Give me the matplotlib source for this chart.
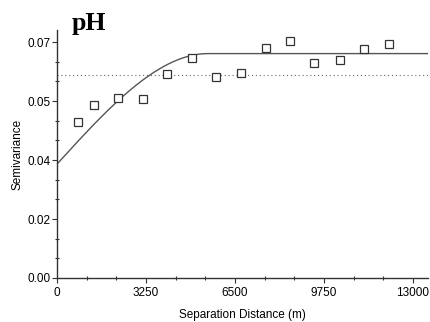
import numpy as np
import matplotlib
matplotlib.use("Agg")
import matplotlib.pyplot as plt
from matplotlib.ticker import FixedLocator, AutoMinorLocator

# experimental semivariogram (lag in m, semivariance)
lag = [756, 1351, 2227, 3129, 4017, 4930, 5806, 6719, 7621, 8519,
       9396, 10323, 11211, 12112]
semivar = [0.0464, 0.0514, 0.0535, 0.0530, 0.0606, 0.0652, 0.0598, 0.0609,
           0.0683, 0.0703, 0.0639, 0.0647, 0.0681, 0.0693]

# fitted spherical model + sample variance
nugget = 0.0338
sill = 0.0666
model_range = 5514
sample_var = 0.0601

xticks = [0, 3250, 6500, 9750, 13000]
yticks = [0.0, 0.0175, 0.035, 0.0525, 0.07]
ylabels = ["0.00", "0.02", "0.04", "0.05", "0.07"]

plt.rcParams['font.family'] = ['Liberation Sans', 'DejaVu Sans']

fig = plt.figure(figsize=(4.3, 3.22), dpi=100)
ax = fig.add_axes([57/430, 1-278/322, 371/430, 248/322])

h = np.linspace(0, 13547, 600)
hr = np.minimum(h / model_range, 1.0)
gam = nugget + (sill - nugget) * (1.5*hr - 0.5*hr**3)
ax.plot(h, gam, color='#555555', lw=1.0)
ax.axhline(sample_var, color='#666666', lw=0.8, ls=(0, (1, 2.5)))
ax.plot(lag, semivar, ls='none', marker='s', ms=5.2, mfc='white',
        mec='#333333', mew=0.9)

ax.set_xlim(0, 13547)
ax.set_ylim(0, 0.0736)
ax.xaxis.set_major_locator(FixedLocator(xticks))
ax.yaxis.set_major_locator(FixedLocator(yticks))
ax.set_yticklabels(ylabels)
ax.xaxis.set_minor_locator(AutoMinorLocator(3))
ax.yaxis.set_minor_locator(AutoMinorLocator(3))

for s in ['top', 'right']:
    ax.spines[s].set_visible(False)
for s in ['left', 'bottom']:
    ax.spines[s].set_color('#333333')
    ax.spines[s].set_linewidth(1.0)
ax.tick_params(which='major', direction='out', length=3.5, width=0.8,
               color='#333333', labelsize=8.5, pad=1)
ax.tick_params(axis='x', which='major', pad=3)
ax.tick_params(which='minor', direction='inout', length=3, width=0.8,
               color='#333333')

ax.set_xlabel("Separation Distance (m)", fontsize=8.5, labelpad=7)
ax.set_ylabel("Semivariance", fontsize=8.5, labelpad=3)
fig.text(72/430, 1-30/322, "pH", fontsize=18.5, fontweight='bold',
         family=['Liberation Serif', 'DejaVu Serif'])

fig.savefig("out.png", dpi=100)
